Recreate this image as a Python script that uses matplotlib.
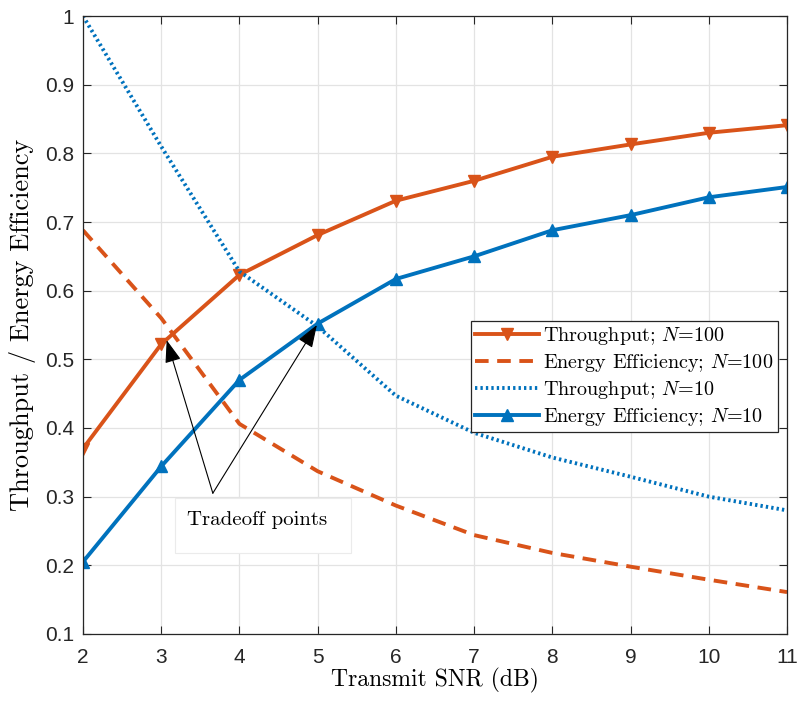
import numpy as np
import matplotlib
matplotlib.use("Agg")
import matplotlib.pyplot as plt
from matplotlib.patches import Rectangle

# ----------------------- Data -----------------------
snr_db = [2, 3, 4, 5, 6, 7, 8, 9, 10, 11]
thr_n100 = [0.370, 0.522, 0.623, 0.681, 0.731, 0.760, 0.795, 0.813, 0.830, 0.841]
ee_n100 = [0.688, 0.560, 0.406, 0.337, 0.287, 0.244, 0.218, 0.198, 0.179, 0.161]
thr_n10 = [1.000, 0.810, 0.628, 0.548, 0.447, 0.393, 0.357, 0.329, 0.300, 0.280]
ee_n10 = [0.205, 0.344, 0.470, 0.552, 0.617, 0.650, 0.688, 0.710, 0.736, 0.751]

legend_labels = [
    r"Throughput; $N$=100",
    r"Energy Efficiency; $N$=100",
    r"Throughput; $N$=10",
    r"Energy Efficiency; $N$=10",
]
x_ticks = list(range(2, 12))
y_ticks = [0.1, 0.2, 0.3, 0.4, 0.5, 0.6, 0.7, 0.8, 0.9, 1.0]

# tradeoff points the arrows point at, and where the arrows start
tradeoff_pts = [(3.07, 0.528), (4.99, 0.550)]
arrow_tail = (3.66, 0.305)

ORANGE = "#D95319"
BLUE = "#0072BD"

plt.rcParams["mathtext.fontset"] = "cm"
plt.rcParams["axes.unicode_minus"] = False
SERIF = "cmr10"
TICK_FONT = "Liberation Sans"

fig = plt.figure(figsize=(7.97, 7.03), dpi=100)
ax = fig.add_axes([0.1041, 0.0982, 0.8834, 0.8790])

ax.plot(snr_db, thr_n100, color=ORANGE, lw=2.8, marker="v", ms=8, label=legend_labels[0])
ax.plot(snr_db, ee_n100, color=ORANGE, lw=2.8, ls=(0, (3.5, 2.2)), label=legend_labels[1])
ax.plot(snr_db, thr_n10, color=BLUE, lw=2.8, ls=(0, (0.6, 0.8)), label=legend_labels[2])
ax.plot(snr_db, ee_n10, color=BLUE, lw=2.8, marker="^", ms=8, label=legend_labels[3])

ax.set_xlim(2, 11)
ax.set_ylim(0.1, 1.0)
ax.set_xticks(x_ticks)
ax.set_yticks(y_ticks)
ax.set_xticklabels([str(t) for t in x_ticks], fontfamily=TICK_FONT, fontsize=15)
ax.set_yticklabels(["1" if t == 1.0 else f"{t:.1f}" for t in y_ticks], fontfamily=TICK_FONT, fontsize=15)
ax.tick_params(direction="in", top=True, right=True, length=6, width=0.8, colors="#262626")
ax.tick_params(axis="x", pad=10)
ax.tick_params(axis="y", pad=6.5)
ax.grid(True, color="#e3e3e3", lw=0.9)
ax.set_axisbelow(True)
for s in ax.spines.values():
    s.set_color("#262626")
    s.set_linewidth(0.9)

ax.set_xlabel("Transmit SNR (dB)", fontfamily=SERIF, fontsize=17, labelpad=1)
ax.set_ylabel("Throughput / Energy Efficiency", fontfamily=SERIF, fontsize=19, labelpad=6)

leg = ax.legend(loc="upper left", bbox_to_anchor=(0.551, 0.506), borderaxespad=0,
                prop={"family": SERIF, "size": 14.5}, handlelength=3.2, handletextpad=0.2,
                labelspacing=0.25, borderpad=0.2, fancybox=False, framealpha=1,
                edgecolor="#262626")
leg.get_frame().set_linewidth(0.9)

# Tradeoff annotation: light text box with two arrows
ax.add_patch(Rectangle((3.176, 0.218), 2.25, 0.080, fc="white", ec="#ebebeb", lw=0.8, zorder=3))
ax.text(3.33, 0.266, "Tradeoff points", fontfamily=SERIF, fontsize=15,
        ha="left", va="center", zorder=4)
for tip in tradeoff_pts:
    ax.annotate("", xy=tip, xytext=arrow_tail,
                arrowprops=dict(arrowstyle="-|>,head_length=1.4,head_width=0.5",
                                color="black", lw=0.8, shrinkA=0, shrinkB=0), zorder=5)

fig.savefig("out.png", dpi=100)
